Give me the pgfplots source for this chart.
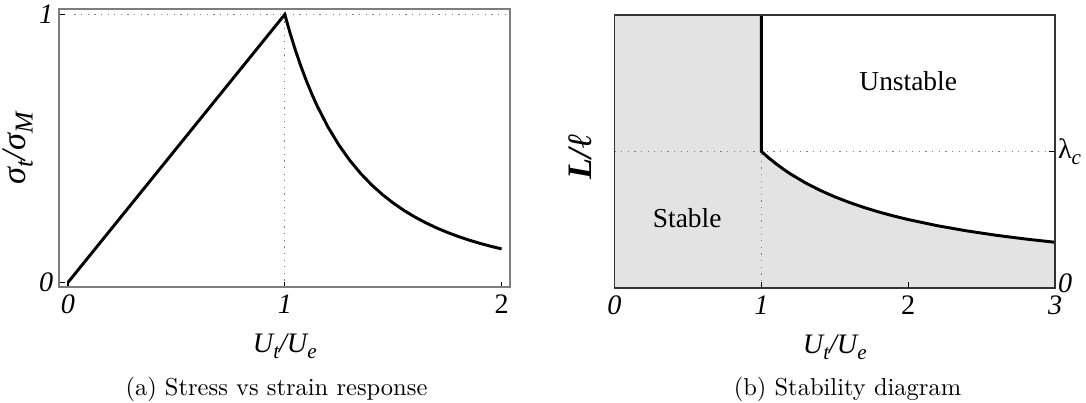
\documentclass[border=0pt]{standalone}
\usepackage{fontspec}
\newfontfamily\tms{Liberation Serif}
\usepackage{graphicx}
\usepackage{pgfplots}
\usepackage{pgfplotstable}
\pgfplotsset{compat=1.18}

\definecolor{fillg}{RGB}{227,227,227}
\definecolor{frameg}{RGB}{125,125,125}
\newcommand\ticks{\tms\itshape\fontsize{11.5}{13}\selectfont}
\newcommand\sbs[1]{\raisebox{-0.22em}{\scalebox{0.75}{#1}}}

% stress response: linear rise, then decay after the peak
\pgfplotstableread{
x y
0 0
1 1
1.025 0.9286
1.05 0.8638
1.075 0.8050
1.1 0.7513
1.125 0.7023
1.15 0.6575
1.2 0.5787
1.25 0.5120
1.3 0.4552
1.35 0.4064
1.4 0.3644
1.45 0.3280
1.5 0.2963
1.55 0.2685
1.6 0.2441
1.65 0.2226
1.7 0.2035
1.75 0.1866
1.8 0.1715
1.85 0.1579
1.9 0.1458
1.95 0.1349
2 0.1250
}\stressdata

% stable region boundary
\pgfplotstableread{
x y
0 2
1 2
1 1
1.05 0.9524
1.1 0.9091
1.15 0.8696
1.2 0.8333
1.3 0.7692
1.4 0.7143
1.5 0.6667
1.6 0.6250
1.7 0.5882
1.8 0.5556
1.9 0.5263
2.0 0.5000
2.2 0.4545
2.4 0.4167
2.6 0.3846
2.8 0.3571
3.0 0.3333
}\regiondata

\begin{document}
\begin{tikzpicture}
\useasboundingbox (-24.2pt,-47.2pt) rectangle (418.9pt,117.2pt);

% (a)
\begin{axis}[
    at={(0pt,0pt)}, anchor=south west,
    scale only axis, width=184pt, height=113.5pt,
    xmin=-0.04, xmax=2.04, ymin=-0.018, ymax=1.02,
    xtick={0,1,2}, xticklabels={0,1,{\upshape 2}},
    ytick={0,1}, yticklabels={0,1},
    xtick pos=left, ytick pos=left,
    tick align=inside, major tick length=2.3pt,
    tick style={black, line width=0.5pt},
    axis line style={frameg, line width=0.7pt},
    xticklabel style={font=\ticks, anchor=base, inner sep=0pt, yshift=-10.8pt},
    yticklabel style={font=\ticks, anchor=east, inner sep=0pt, xshift=-2.3pt},
    xlabel={U\sbs{t}/U\sbs{e}},
    xlabel style={font=\tms\itshape\fontsize{11.5}{13}\selectfont, at={(axis description cs:0.5,-0.235)}, anchor=base},
    ylabel={σ\sbs{t}/σ\sbs{M}},
    ylabel style={font=\tms\itshape\fontsize{14}{16}\selectfont, at={(axis description cs:-0.076,0.5)}, anchor=base},
    axis on top, clip=false,
]
\draw[gray, line width=0.5pt, dash pattern=on 0.5pt off 2.2pt] (axis cs:0.03,1) -- (axis cs:2.04,1);
\draw[gray, line width=0.5pt, dash pattern=on 0.5pt off 2.2pt] (axis cs:1,-0.018) -- (axis cs:1,1);
\addplot[black, line width=1.2pt, line join=miter, no markers] table {\stressdata};
\end{axis}

% (b)
\begin{axis}[
    at={(226.5pt,-0.2pt)}, anchor=south west,
    scale only axis, width=179.8pt, height=111.3pt,
    xmin=0, xmax=3, ymin=0, ymax=2,
    xtick={0,1,2,3}, xticklabels={0,1,{\upshape 2},3},
    ytick={0,1}, yticklabels={{\raisebox{3.5pt}{0}},{\upshape λ}\sbs{c}},
    xtick pos=left, ytick pos=right, yticklabel pos=right,
    tick align=inside, major tick length=2.3pt,
    tick style={black, line width=0.5pt},
    axis line style={black!80, line width=0.7pt},
    xticklabel style={font=\ticks, anchor=base, inner sep=0pt, yshift=-10.8pt},
    yticklabel style={font=\ticks, anchor=west, inner sep=0pt, xshift=1pt},
    xlabel={U\sbs{t}/U\sbs{e}},
    xlabel style={font=\tms\itshape\fontsize{11.5}{13}\selectfont, at={(axis description cs:0.5,-0.241)}, anchor=base},
    ylabel={L/ℓ},
    ylabel style={font=\tms\bfseries\itshape\fontsize{14}{16}\selectfont, at={(axis description cs:-0.051,0.48)}, anchor=base},
    axis on top, clip=false,
]
\addplot[fill=fillg, draw=none] table {\regiondata} \closedcycle;
\draw[gray, line width=0.5pt, dash pattern=on 0.5pt off 2.2pt] (axis cs:0,1) -- (axis cs:3,1);
\draw[gray, line width=0.5pt, dash pattern=on 0.5pt off 2.2pt] (axis cs:1,0) -- (axis cs:1,1);
\addplot[black, line width=1.2pt, line join=miter, no markers, skip coords between index={0}{1}] table {\regiondata};
\node[font=\tms\fontsize{11.2}{13}\selectfont, anchor=base] at (axis cs:0.495,0.439) {Stable};
\node[font=\tms\fontsize{11.2}{13}\selectfont, anchor=base] at (axis cs:2.0,1.446) {Unstable};
\end{axis}

\node[anchor=base] at (88.6pt,-44.2pt) {(a) Stress vs strain response};
\node[anchor=base] at (321.6pt,-44.2pt) {(b) Stability diagram};
\end{tikzpicture}
\end{document}
